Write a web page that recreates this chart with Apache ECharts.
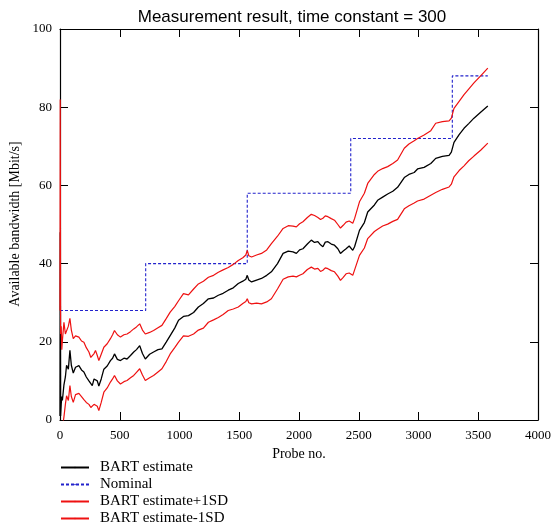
<!DOCTYPE html>
<html><head><meta charset="utf-8">
<script src="https://cdn.jsdelivr.net/npm/echarts@6/dist/echarts.min.js"></script>
<style>html,body{margin:0;padding:0;background:#fff}#c{width:554px;height:527px}</style>
</head><body><div id="c"></div>
<script>
const probes=[0,2,5,10,15,20,33,45,55,70,83,95,111,130,158,180,200,220,242,258,270,285,297,312,325,345,367,395,422,440,456,480,506,535,561,590,617,640,667,690,714,750,783,820,853,890,922,960,992,1033,1075,1118,1158,1200,1242,1285,1325,1365,1408,1450,1492,1530,1555,1567,1580,1603,1645,1686,1730,1769,1820,1867,1910,1950,1978,2005,2033,2070,2103,2130,2158,2180,2200,2220,2242,2270,2297,2325,2347,2370,2394,2420,2436,2450,2465,2506,2547,2575,2631,2658,2700,2742,2785,2825,2881,2920,2964,2992,3047,3103,3144,3200,3256,3275,3297,3340,3381,3420,3464,3520,3580];
const bartEstimate=[1,48,1,4,6,5,9,11,14,13,17.8,14,12,13.5,13.9,12.8,12.3,11,10,9.5,8.8,10.5,11,10,8.7,10.5,13,13.8,15.2,15.8,16.9,15.5,15.2,15.8,15.6,16.5,17.4,18,19,17,15.6,16.8,17.4,18,18.2,20,21.6,23.5,25.5,26.5,26.7,27.5,28.9,29.8,31,31.2,31.9,32.4,33.2,33.8,34.9,35.5,36,37,35.8,35.3,35.8,36.2,37,37.9,40,42.6,43.2,43,42.6,43.5,43.8,45,46,45.4,45.6,44.8,44.3,45.5,45.6,45,44.7,43.8,42.6,43.2,43.8,44.5,44.7,43.4,44.3,48.5,50.5,53.2,55,56.2,57,57.8,58.5,59.5,62,62.8,63.3,64.2,64.6,65.6,66.9,67.4,67.7,68.5,71,73,74.6,75.8,77.2,78.7,80.3];
const bartPlus1SD=[28,82,22,24,18,20.3,25,22,22.5,24,26,23,20.8,21.5,21.2,20.2,19.9,18.5,17.4,16,15.6,17,17.8,16.5,15.2,16.8,18.6,19.5,20.8,21.8,22.9,21.8,21.2,21.8,22,22.6,23.3,23.8,24.6,23,22,22.4,22.9,23.6,24.2,26,27.6,29,30.5,32.3,32,33.5,34.8,35.5,36.5,37,37.8,38.4,39,39.8,40.8,41.5,42.2,43.4,42,41.7,42.2,42.6,43.5,45.1,47,49,49.7,49.6,49.4,50.2,50.7,51.8,52.6,52.3,51.8,51.3,51.6,52.2,52,51.5,51.1,50,49.1,49.8,50.6,50.9,51,50.3,51.5,55.8,58,60.5,62.8,63.6,64.3,64.8,65.6,66.5,69.5,70.6,71.4,72,72.9,74,75.9,76.3,76.5,77.2,79.7,81.5,83.2,84.6,86.2,88,90];
const bartMinus1SD=[null,null,null,null,null,-2,0.8,4,6.2,5,8.8,6,4.5,6.5,6.8,6,5.2,4.5,4,3.2,2.8,4,4.5,3.5,2.4,4.5,7.1,8.2,9.7,10.5,11.4,10,9.2,9.8,10.1,10.8,11.4,12.2,13.1,11.5,10.1,10.8,11.4,12.3,13.1,15,16.9,18.5,19.9,21.5,21.4,22,23,23.5,25,25.6,26.2,27,28,28.4,28.9,29.8,30.3,31,30,29.7,29.9,29.7,30.2,31,33.5,36,36.6,36.8,36.6,37,37.4,38.5,39.1,38.6,38.8,38,38.3,38.9,38.7,38.2,37.9,36.8,35.7,36.5,37.4,37.6,37.8,37,37.5,42.1,44,46.4,48.2,48.8,49.6,50.1,50.8,51.3,54,54.8,55.5,56,56.5,57.5,58.2,59,59.6,60.3,62.2,63.8,65,66.3,67.5,69,70.8];
const nominalProbes=[0,717,1567,2433,3283,3580];
const nominalValues=[28,40,58,72,88,88];
const seriesNames=['BART estimate','Nominal','BART estimate+1SD','BART estimate-1SD'];
const seriesColors=['#000000','#2222cc','#ee1111','#ee1111'];
const xMin=0,xMax=4000,xStep=500;
const yMin=0,yMax=100,yStep=20;

const pair=(xs,ys)=>xs.map((x,i)=>[x,ys[i]]);
const serif='"Liberation Serif","Times New Roman",serif';
const chart=echarts.init(document.getElementById('c'),null,{renderer:'canvas'});
const axisLine={show:true,onZero:false,lineStyle:{color:'#000',width:1.2}};
const tick={show:true,inside:true,length:8,lineStyle:{color:'#000',width:1}};
const plain=v=>String(v);
chart.setOption({
  animation:false,
  backgroundColor:'#fff',
  title:{text:'Measurement result, time constant = 300',left:287,textAlign:'center',top:4,
    textStyle:{fontFamily:'"Liberation Sans",Arial,sans-serif',fontSize:17,fontWeight:'normal',color:'#000'}},
  grid:{left:60,right:14,top:29,bottom:107,containLabel:false},
  xAxis:[{type:'value',min:xMin,max:xMax,interval:xStep,axisLine,axisTick:tick,splitLine:{show:false},
    axisLabel:{fontFamily:serif,fontSize:13,color:'#000',margin:9,formatter:plain},
    name:'Probe no.',nameLocation:'middle',nameGap:27,nameTextStyle:{fontFamily:serif,fontSize:14,color:'#000'}},
    {type:'value',position:'top',min:xMin,max:xMax,interval:xStep,axisLine,axisTick:tick,axisLabel:{show:false},splitLine:{show:false}}],
  yAxis:[{type:'value',min:yMin,max:yMax,interval:yStep,axisLine,axisTick:tick,splitLine:{show:false},
    axisLabel:{fontFamily:serif,fontSize:13,color:'#000',margin:8,formatter:plain}},
    {type:'value',position:'right',min:yMin,max:yMax,interval:yStep,axisLine,axisTick:tick,axisLabel:{show:false},splitLine:{show:false}}],
  graphic:[{type:'text',x:15,y:224,rotation:Math.PI/2,style:{text:'Available bandwidth [Mbit/s]',fontFamily:serif,fontSize:14,fill:'#000',textAlign:'center',textVerticalAlign:'middle'}}],
  legend:{show:true,orient:'vertical',left:60,top:460,padding:0,itemWidth:28,itemHeight:2,itemGap:2,
    textStyle:{fontFamily:serif,fontSize:15,lineHeight:15,color:'#000',padding:[0,0,0,6]},
    data:seriesNames},
  series:[
    {name:seriesNames[0],type:'line',data:pair(probes,bartEstimate),showSymbol:false,symbol:'none',lineStyle:{color:seriesColors[0],width:1.3},itemStyle:{color:seriesColors[0]},z:3},
    {name:seriesNames[1],type:'line',step:'end',data:pair(nominalProbes,nominalValues),showSymbol:false,symbol:'none',lineStyle:{color:seriesColors[1],width:1.1,type:[3,2]},itemStyle:{color:seriesColors[1]},z:2},
    {name:seriesNames[2],type:'line',data:pair(probes,bartPlus1SD),showSymbol:false,symbol:'none',lineStyle:{color:seriesColors[2],width:1.2},itemStyle:{color:seriesColors[2]},z:4},
    {name:seriesNames[3],type:'line',data:pair(probes,bartMinus1SD),showSymbol:false,symbol:'none',lineStyle:{color:seriesColors[3],width:1.2},itemStyle:{color:seriesColors[3]},z:4}
  ]
});
</script></body></html>
